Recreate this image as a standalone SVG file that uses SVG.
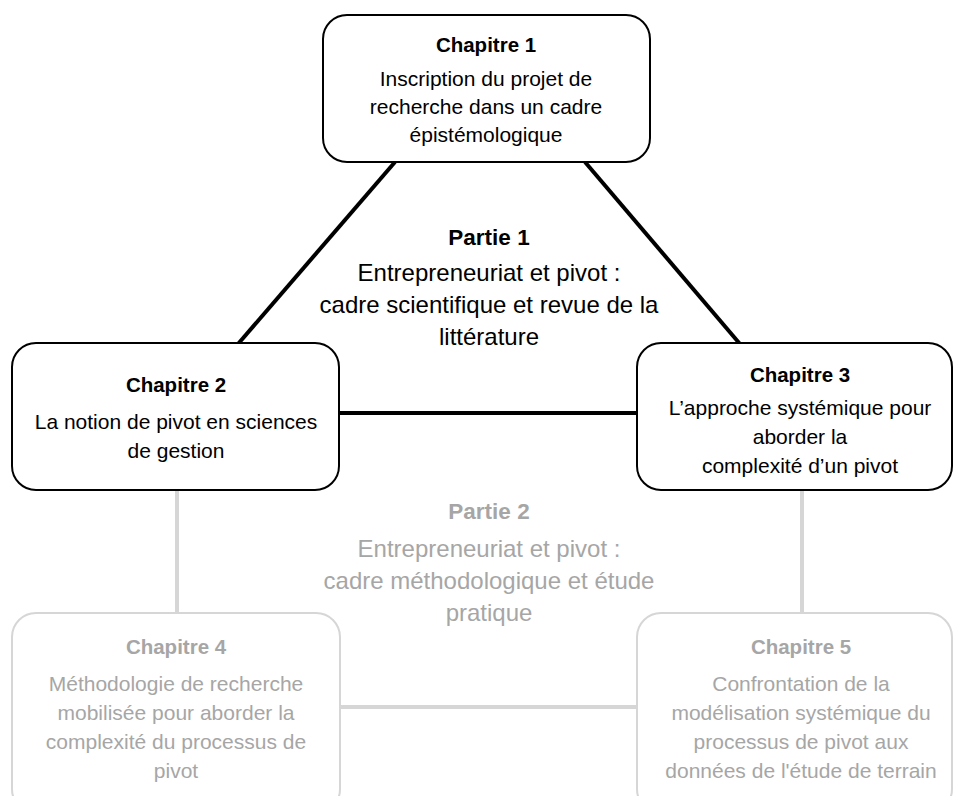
<svg xmlns="http://www.w3.org/2000/svg" width="954" height="796" viewBox="0 0 954 796">
<style>
.box{fill:#ffffff;stroke:#000000;stroke-width:2}
.gbox{fill:#ffffff;stroke:#d6d6d6;stroke-width:2}
.ln{stroke:#000000;stroke-width:4;fill:none}
.gln{stroke:#d6d6d6;stroke-width:4;fill:none}
text{font-family:"Liberation Sans",Arial,sans-serif;text-anchor:middle}
.t{font-size:20.5px;font-weight:bold;fill:#000000}
.b{font-size:21px;fill:#000000}
.pt{font-size:22.5px;font-weight:bold;fill:#000000}
.pb{font-size:24px;fill:#000000}
.gt{font-size:20.5px;font-weight:bold;fill:#a6a6a6}
.gb{font-size:21px;fill:#a6a6a6}
.gpt{font-size:22.5px;font-weight:bold;fill:#a6a6a6}
.gpb{font-size:24px;fill:#a6a6a6}
</style>
<rect width="954" height="796" fill="#ffffff"/>
<g id="connectors">
<line class="ln" x1="395" y1="162" x2="238" y2="344"/>
<line class="ln" x1="585" y1="162" x2="740" y2="344"/>
<line class="ln" x1="339" y1="413" x2="637" y2="413"/>
<line class="gln" x1="177" y1="490" x2="177" y2="613"/>
<line class="gln" x1="802" y1="490" x2="802" y2="613"/>
<line class="gln" x1="340" y1="707" x2="637" y2="707"/>
</g>
<g id="chapitre1">
<rect class="box" x="323" y="15" width="327" height="147" rx="24"/>
<text class="t" x="486" y="52">Chapitre 1</text>
<text class="b" x="486" y="86">Inscription du projet de</text>
<text class="b" x="486" y="114">recherche dans un cadre</text>
<text class="b" x="486" y="142">épistémologique</text>
</g>
<g id="partie1">
<text class="pt" x="489" y="245">Partie 1</text>
<text class="pb" x="489" y="281">Entrepreneuriat et pivot :</text>
<text class="pb" x="489" y="313">cadre scientifique et revue de la</text>
<text class="pb" x="489" y="345">littérature</text>
</g>
<g id="chapitre2">
<rect class="box" x="12" y="343" width="327" height="147" rx="24"/>
<text class="t" x="176" y="392">Chapitre 2</text>
<text class="b" x="176" y="429">La notion de pivot en sciences</text>
<text class="b" x="176" y="458">de gestion</text>
</g>
<g id="chapitre3">
<rect class="box" x="637" y="343" width="315" height="147" rx="24"/>
<text class="t" x="800" y="382">Chapitre 3</text>
<text class="b" x="800" y="415">L’approche systémique pour</text>
<text class="b" x="800" y="444">aborder la</text>
<text class="b" x="800" y="473">complexité d’un pivot</text>
</g>
<g id="partie2">
<text class="gpt" x="489" y="519">Partie 2</text>
<text class="gpb" x="489" y="557">Entrepreneuriat et pivot :</text>
<text class="gpb" x="489" y="589">cadre méthodologique et étude</text>
<text class="gpb" x="489" y="621">pratique</text>
</g>
<g id="chapitre4">
<rect class="gbox" x="12" y="613" width="328" height="200" rx="24"/>
<text class="gt" x="176" y="654">Chapitre 4</text>
<text class="gb" x="176" y="691">Méthodologie de recherche</text>
<text class="gb" x="176" y="720">mobilisée pour aborder la</text>
<text class="gb" x="176" y="749">complexité du processus de</text>
<text class="gb" x="176" y="778">pivot</text>
</g>
<g id="chapitre5">
<rect class="gbox" x="637" y="613" width="315" height="200" rx="24"/>
<text class="gt" x="801" y="654">Chapitre 5</text>
<text class="gb" x="801" y="691">Confrontation de la</text>
<text class="gb" x="801" y="720">modélisation systémique du</text>
<text class="gb" x="801" y="749">processus de pivot aux</text>
<text class="gb" x="801" y="778">données de l'étude de terrain</text>
</g>
</svg>
